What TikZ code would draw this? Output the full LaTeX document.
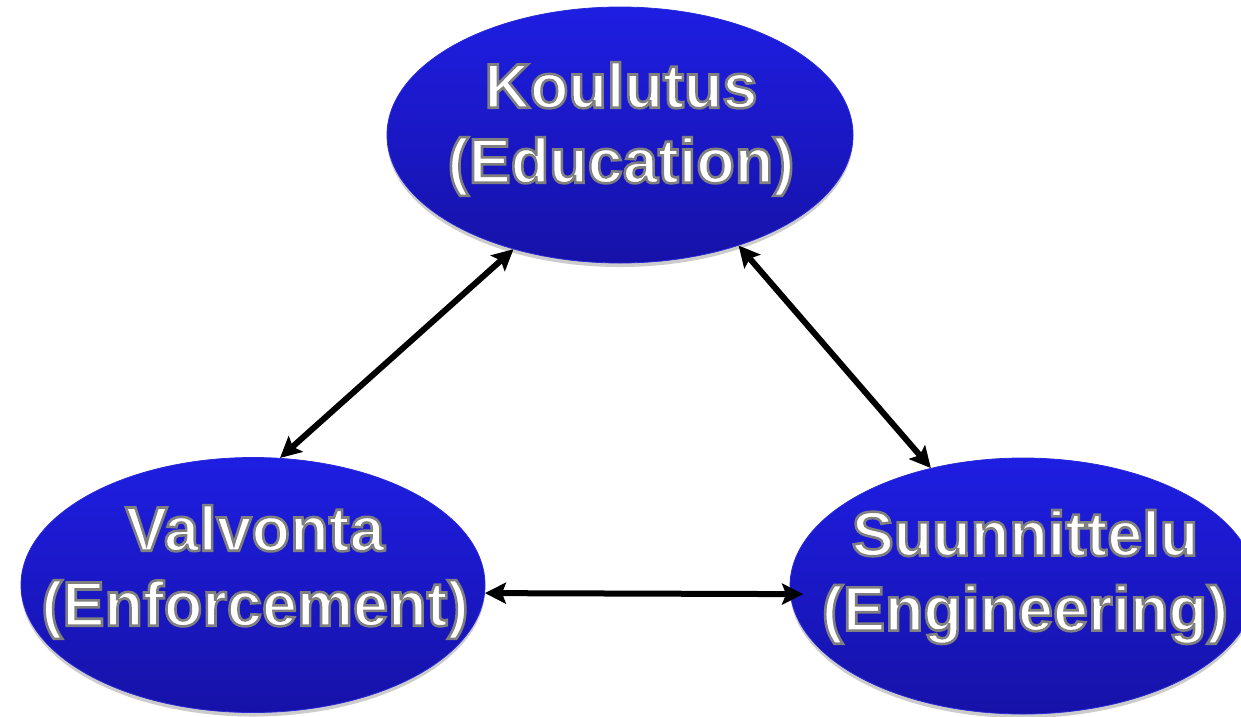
\documentclass[tikz,border=0pt]{standalone}
\usepackage{fontspec}
\setmainfont{Liberation Sans}
\usetikzlibrary{shapes.geometric,shadows,arrows.meta}
\definecolor{ovtop}{RGB}{30,30,226}
\definecolor{ovbot}{RGB}{22,18,168}
\definecolor{ovline}{RGB}{42,42,215}
\newcommand{\ctxt}[1]{\special{pdf:literal direct 2 Tr 2.6 w 0.5 0.5 0.5 RG}#1\special{pdf:literal direct 0 Tr}}
\tikzset{
  oval/.style={ellipse, inner sep=0pt, minimum width=466pt, minimum height=256pt,
    top color=ovtop, bottom color=ovbot, draw=ovline, line width=0.8pt,
    drop shadow={shadow xshift=0pt, shadow yshift=-4pt, fill=black, opacity=0.2}},
  lbl/.style={inner sep=0pt, align=center, text=white,
    font=\fontsize{63}{75}\selectfont\bfseries},
  link/.style={line width=6pt, black,
    {Stealth[length=21pt,width=21pt,inset=4pt]}-{Stealth[length=21pt,width=21pt,inset=4pt]}}
}
\begin{document}
\begin{tikzpicture}[x=1pt,y=-1pt]
\useasboundingbox (0,0) rectangle (1241,716);
\node[oval] (K) at (620,135) {};
\node[oval, minimum width=464pt, minimum height=255pt] (V) at (253,585) {};
\node[oval] (S) at (1023,586) {};
\node[lbl] (Kt) at (621,129) {\ctxt{Koulutus}\\\ctxt{(Education)}};
\node[lbl] (Vt) at (255,572) {\ctxt{Valvonta}\\\ctxt{(Enforcement)}};
\node[lbl] (St) at (1025,577) {\ctxt{Suunnittelu}\\\ctxt{(Engineering)}};
\draw[link] (K.227.6) -- (V.78.9);
\draw[link] (K.-43.3) -- (S.128.6);
\draw[link] (V.-2.5) -- ([xshift=13pt]S.182.3);
\end{tikzpicture}
\end{document}
